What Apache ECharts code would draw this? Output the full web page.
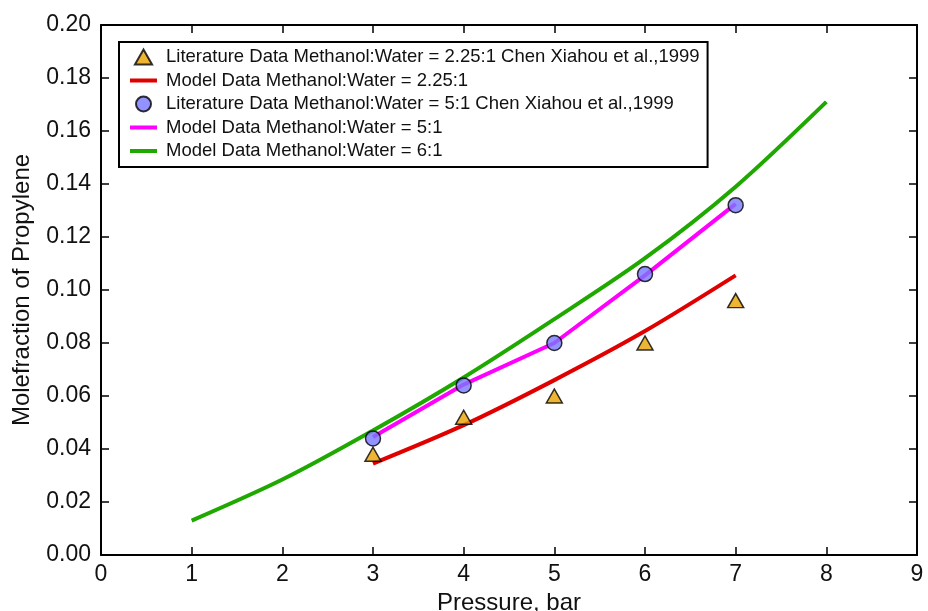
<!DOCTYPE html>
<html>
<head>
<meta charset="utf-8">
<script src="https://cdn.jsdelivr.net/npm/echarts@6/dist/echarts.min.js"></script>
<style>
  html, body { margin: 0; padding: 0; background: #fff; }
  #graph { width: 928px; height: 611px; }
</style>
</head>
<body>
<div id="graph"></div>
<script>
// pressure values (bar)
let litX = [3, 4, 5, 6, 7];
let modelX = [3, 4, 5, 6, 7];
let greenX = [1, 2, 3, 4, 5, 6, 7, 8];

// Methanol:Water = 2.25:1
let litLowY = [0.038, 0.052, 0.060, 0.080, 0.096];
let modelLowY = [0.0345, 0.049, 0.066, 0.0845, 0.1055];
// Methanol:Water = 5:1
let litHighY = [0.044, 0.064, 0.080, 0.106, 0.132];
let modelHighY = [0.0445, 0.0643, 0.080, 0.1055, 0.1325];
// Methanol:Water = 6:1
let modelSixY = [0.013, 0.0285, 0.047, 0.067, 0.089, 0.112, 0.139, 0.171];

let names = [
    "Literature Data Methanol:Water = 2.25:1 Chen Xiahou et al.,1999",
    "Model Data Methanol:Water = 2.25:1",
    "Literature Data Methanol:Water = 5:1 Chen Xiahou et al.,1999",
    "Model Data Methanol:Water = 5:1",
    "Model Data Methanol:Water = 6:1"
];

function zip(xs, ys) {
    let out = [];
    for (let i = 0; i < xs.length; i++) out.push([xs[i], ys[i]]);
    return out;
}

let myChart = echarts.init(document.getElementById('graph'));
let font = "Liberation Sans";
let lineIcon = 'path://M0,0H27V4H0Z';
let triIcon = 'path://M8,0L16,14L0,14Z';

let axisCommon = {
    type: 'value',
    axisLine: { show: true, onZero: false, lineStyle: { color: '#000', width: 2 } },
    axisTick: { show: true, inside: true, length: 8, lineStyle: { color: '#000', width: 1.5 } },
    splitLine: { show: false }
};

let option = {
    animation: false,
    textStyle: { fontFamily: font },
    grid: { left: 101, right: 11, top: 25, bottom: 56, outerBoundsMode: 'none' },
    legend: {
        orient: 'vertical',
        left: 119,
        top: 42,
        itemGap: 3.5,
        itemWidth: 27,
        itemHeight: 15,
        padding: [5, 8, 6, 11],
        borderColor: '#000',
        borderWidth: 2,
        backgroundColor: '#fff',
        textStyle: { fontFamily: font, fontSize: 18.5, lineHeight: 20, color: '#111', padding: [0, 0, 0, 4] },
        data: [
            { name: names[0], icon: triIcon },
            { name: names[1], icon: lineIcon },
            { name: names[2], icon: 'circle' },
            { name: names[3], icon: lineIcon },
            { name: names[4], icon: lineIcon }
        ]
    },
    xAxis: [
        Object.assign({}, axisCommon, {
            min: 0, max: 9, interval: 1,
            name: 'Pressure, bar',
            nameLocation: 'middle',
            nameGap: 33,
            nameTextStyle: { fontSize: 24, color: '#111' },
            axisLabel: { fontSize: 23, color: '#111', margin: 8 }
        }),
        Object.assign({}, axisCommon, {
            min: 0, max: 9, interval: 1, position: 'top',
            axisLabel: { show: false }
        })
    ],
    yAxis: [
        Object.assign({}, axisCommon, {
            min: 0, max: 0.2, interval: 0.02,
            name: 'Molefraction of Propylene',
            nameLocation: 'middle',
            nameGap: 67,
            nameTextStyle: { fontSize: 24, color: '#111' },
            axisLabel: {
                fontSize: 23, color: '#111', margin: 10,
                formatter: function (v) { return v.toFixed(2); }
            }
        }),
        Object.assign({}, axisCommon, {
            min: 0, max: 0.2, interval: 0.02, position: 'right',
            axisLabel: { show: false }
        })
    ],
    series: [
        {
            name: names[0], type: 'scatter', symbol: 'triangle', symbolSize: [16, 14], z: 5,
            itemStyle: { color: '#e8a200', borderColor: '#000', borderWidth: 1.5 },
            data: zip(litX, litLowY)
        },
        {
            name: names[1], type: 'line', symbol: 'none', smooth: 0.3, z: 3,
            lineStyle: { color: '#e00000', width: 4 },
            itemStyle: { color: '#e00000' },
            data: zip(modelX, modelLowY)
        },
        {
            name: names[2], type: 'scatter', symbol: 'circle', symbolSize: 15, z: 5,
            itemStyle: { color: '#7878ff', borderColor: '#000', borderWidth: 1.5 },
            data: zip(litX, litHighY)
        },
        {
            name: names[3], type: 'line', symbol: 'none', z: 4,
            lineStyle: { color: '#ff00ff', width: 4 },
            itemStyle: { color: '#ff00ff' },
            data: zip(modelX, modelHighY)
        },
        {
            name: names[4], type: 'line', symbol: 'none', smooth: 0.3, z: 2,
            lineStyle: { color: '#1fa800', width: 4 },
            itemStyle: { color: '#1fa800' },
            data: zip(greenX, modelSixY)
        }
    ]
};
myChart.setOption(option);
</script>
</body>
</html>
